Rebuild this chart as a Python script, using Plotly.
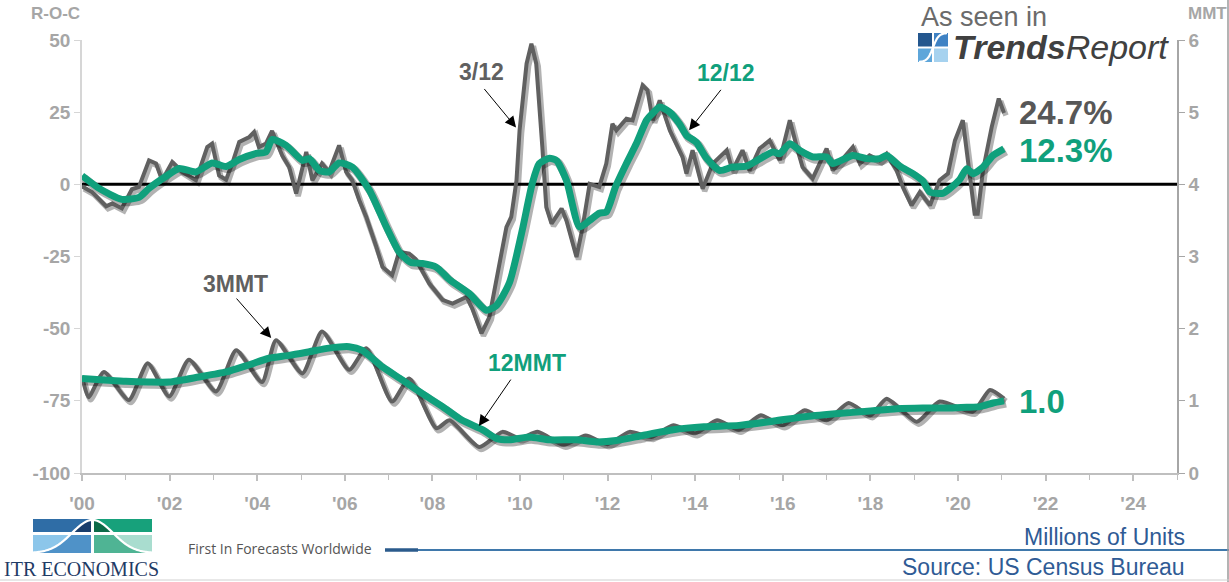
import numpy as np
import plotly.graph_objects as go

# ---------------- data ----------------
# 3/12 rate-of-change (%), left axis
roc_3_12_t = [2000.00, 2000.23, 2000.55, 2000.69, 2000.91, 2001.14, 2001.30, 2001.53, 2001.69, 2001.83,
              2002.06, 2002.29, 2002.60, 2002.86, 2002.97, 2003.13, 2003.29, 2003.43, 2003.59, 2003.82,
              2003.93, 2004.04, 2004.20, 2004.34, 2004.57, 2004.73, 2004.89, 2005.12, 2005.26, 2005.48,
              2005.64, 2005.87, 2006.03, 2006.17, 2006.33, 2006.49, 2006.72, 2006.86, 2007.08, 2007.24,
              2007.47, 2007.62, 2007.93, 2008.23, 2008.46, 2008.78, 2008.91, 2009.12, 2009.30, 2009.46,
              2009.69, 2009.80, 2009.92, 2009.99, 2010.15, 2010.26, 2010.37, 2010.51, 2010.60, 2010.72,
              2010.95, 2011.06, 2011.29, 2011.43, 2011.59, 2011.81, 2011.97, 2012.11, 2012.20, 2012.43,
              2012.57, 2012.80, 2012.91, 2013.03, 2013.19, 2013.42, 2013.57, 2013.71, 2013.80, 2013.94,
              2014.17, 2014.40, 2014.72, 2014.85, 2015.08, 2015.24, 2015.47, 2015.70, 2015.93, 2016.16,
              2016.32, 2016.45, 2016.68, 2017.00, 2017.14, 2017.60, 2017.76, 2017.98, 2018.21, 2018.37,
              2018.60, 2018.74, 2018.94, 2019.13, 2019.36, 2019.58, 2019.77, 2019.93, 2020.11, 2020.22,
              2020.38, 2020.45, 2020.57, 2020.77, 2020.93, 2021.05]
roc_3_12_v = [-0.7, -2.7, -7.6, -6.6, -8.3, -1.7, -0.9, 8.3, 7.2, 1.4,
              7.7, 4.3, 1.4, 12.9, 14.1, 3.1, 1.6, 7.2, 14.7, 16.4,
              18.1, 12.9, 14.1, 18.5, 10.0, 6.0, -3.2, 11.2, 1.4, 7.2,
              4.3, 13.5, 4.3, 1.4, -5.5, -11.3, -21.7, -28.6, -31.5, -23.4,
              -24.0, -26.0, -34.4, -40.0, -41.3, -39.0, -43.0, -51.6, -46.0, -33.0,
              -14.8, -11.3, 1.4, 18.7, 41.8, 48.7, 41.8, 12.9, -7.9, -13.6,
              -8.4, -12.5, -25.2, -14.8, 0.2, -0.9, 7.2, 21.0, 18.7, 22.7,
              22.2, 34.3, 32.6, 22.2, 29.1, 18.7, 14.1, 9.5, 3.7, 11.8,
              -1.5, 7.2, 11.8, 4.8, 11.8, 4.8, 12.4, 15.2, 8.3, 22.2,
              12.9, 6.0, 2.0, 12.4, 4.8, 12.9, 7.2, 10.0, 8.3, 10.6,
              4.8, -0.9, -7.3, -2.7, -7.3, 1.4, 3.7, 15.2, 22.2, 8.3,
              -10.2, -10.2, 4.8, 19.9, 29.7, 24.7]

# 12/12 rate-of-change (%), left axis
roc_12_12_t = [2000.00, 2000.39, 2000.91, 2001.30, 2001.53, 2001.92, 2002.22, 2002.60, 2002.97, 2003.29,
               2003.59, 2003.98, 2004.20, 2004.34, 2004.66, 2005.03, 2005.19, 2005.42, 2005.64, 2005.87,
               2006.17, 2006.56, 2006.95, 2007.24, 2007.50, 2007.77, 2008.09, 2008.39, 2008.84, 2009.23,
               2009.46, 2009.76, 2010.05, 2010.28, 2010.44, 2010.67, 2010.83, 2011.06, 2011.36, 2011.59,
               2011.81, 2011.97, 2012.18, 2012.43, 2012.66, 2012.89, 2013.03, 2013.19, 2013.42, 2013.64,
               2013.80, 2014.03, 2014.26, 2014.56, 2014.85, 2015.17, 2015.47, 2015.77, 2015.93, 2016.16,
               2016.38, 2016.68, 2017.00, 2017.14, 2017.60, 2017.92, 2018.21, 2018.37, 2018.67, 2018.97,
               2019.20, 2019.36, 2019.65, 2019.81, 2020.04, 2020.20, 2020.34, 2020.57, 2020.80, 2021.05]
roc_12_12_v = [3.0, -1.4, -5.2, -4.5, -1.4, 2.8, 5.5, 4.3, 7.4, 6.2,
               8.6, 10.7, 11.2, 15.5, 13.5, 8.3, 8.9, 4.8, 4.3, 7.4,
               6.0, -2.0, -14.8, -23.4, -27.0, -27.4, -28.7, -33.0, -37.8, -43.6,
               -42.0, -34.0, -16.0, 0.3, 7.2, 9.0, 8.3, 1.4, -14.8, -12.5,
               -10.0, -9.6, -0.9, 7.2, 14.2, 22.2, 24.6, 26.8, 25.0, 21.0,
               17.0, 14.5, 9.0, 4.8, 6.0, 6.3, 8.8, 11.2, 10.6, 14.1,
               11.8, 9.5, 9.5, 7.2, 10.0, 8.9, 8.9, 10.0, 6.3, 3.7,
               1.1, -2.7, -3.1, -1.5, 1.7, 5.4, 3.7, 6.0, 10.0, 12.3]

# 3-month moving total (millions of units), right axis
mmt_3_t = [2000.00, 2000.15, 2000.50, 2001.07, 2001.50, 2001.99, 2002.44, 2003.06, 2003.52, 2004.11,
           2004.43, 2005.03, 2005.48, 2006.10, 2006.49, 2007.08, 2007.47, 2008.09, 2008.39, 2009.07,
           2009.60, 2010.00, 2010.40, 2011.00, 2011.50, 2012.00, 2012.50, 2013.00, 2013.50, 2014.00,
           2014.50, 2015.00, 2015.50, 2016.00, 2016.50, 2017.00, 2017.50, 2018.00, 2018.37, 2019.06,
           2019.58, 2020.34, 2020.73, 2021.05]
mmt_3_v = [1.34, 1.05, 1.40, 1.01, 1.52, 1.06, 1.57, 1.13, 1.70, 1.26,
           1.84, 1.38, 1.96, 1.43, 1.73, 0.99, 1.31, 0.62, 0.73, 0.36,
           0.57, 0.48, 0.57, 0.39, 0.52, 0.40, 0.57, 0.50, 0.66, 0.55,
           0.73, 0.60, 0.80, 0.66, 0.87, 0.73, 0.97, 0.80, 1.03, 0.71,
           0.99, 0.85, 1.15, 1.03]

# 12-month moving total (millions of units), right axis
mmt_12_t = [2000.00, 2000.50, 2001.00, 2001.53, 2001.99, 2002.67, 2003.29, 2003.82, 2004.27, 2004.73,
            2005.19, 2005.64, 2006.10, 2006.40, 2006.86, 2007.31, 2007.77, 2008.23, 2008.68, 2009.14,
            2009.46, 2009.76, 2010.21, 2010.67, 2011.29, 2011.75, 2012.20, 2012.80, 2013.50, 2014.20,
            2015.00, 2015.80, 2016.50, 2017.20, 2018.00, 2018.60, 2019.20, 2019.80, 2020.20, 2020.50,
            2020.80, 2021.05]
mmt_12_v = [1.31, 1.29, 1.27, 1.26, 1.26, 1.33, 1.40, 1.50, 1.59, 1.63,
            1.68, 1.73, 1.75, 1.70, 1.47, 1.29, 1.10, 0.92, 0.73, 0.60,
            0.48, 0.46, 0.50, 0.46, 0.46, 0.43, 0.45, 0.52, 0.60, 0.64,
            0.66, 0.72, 0.78, 0.82, 0.86, 0.89, 0.90, 0.90, 0.91, 0.92,
            0.97, 1.00]

year_ticks = list(range(2000, 2025, 2))
year_labels = ["'00", "'02", "'04", "'06", "'08", "'10", "'12", "'14", "'16", "'18", "'20", "'22", "'24"]
roc_ticks = [-100, -75, -50, -25, 0, 25, 50]
roc_labels = ["-100", "-75", "-50", "-25", "0", "25", "50"]
mmt_ticks = [0, 1, 2, 3, 4, 5, 6]

# ---------------- styling ----------------
W_PX, H_PX = 1229, 582
L, R, T, B = 82, 1177, 40, 473          # plot-area edges in pixels
X_RANGE = [2000, 2025]
Y1_RANGE = [-100, 50]
Y2_RANGE = [0, 6]

GRAY = "#606060"
TEAL = "#10a07c"
AXIS_TXT = "#a6a6a6"
BLUE_TXT = "#2f5b95"
FONT = "Liberation Sans"


def P(x, y):
    """pixel position -> paper coordinates"""
    return (x - L) / (R - L), (B - y) / (B - T)


px_per_year = (R - L) / (X_RANGE[1] - X_RANGE[0])
px_per_y1 = (B - T) / (Y1_RANGE[1] - Y1_RANGE[0])
px_per_y2 = (B - T) / (Y2_RANGE[1] - Y2_RANGE[0])

fig = go.Figure()


def add_series(t, v, color, width, axis, shape):
    t = np.asarray(t, float)
    v = np.asarray(v, float)
    dy = 2.5 / (px_per_y1 if axis == "y" else px_per_y2)
    dx = 2.0 / px_per_year
    fig.add_trace(go.Scatter(x=t + dx, y=v - dy, mode="lines", yaxis=axis,
                             line=dict(color="rgba(0,0,0,0.30)", width=width + 1.5, shape=shape, smoothing=0.6),
                             hoverinfo="skip", showlegend=False))
    fig.add_trace(go.Scatter(x=t, y=v, mode="lines", yaxis=axis,
                             line=dict(color=color, width=width, shape=shape, smoothing=0.6),
                             showlegend=False))


add_series(mmt_3_t, mmt_3_v, GRAY, 4, "y2", "spline")
add_series(mmt_12_t, mmt_12_v, TEAL, 7, "y2", "spline")
add_series(roc_3_12_t, roc_3_12_v, GRAY, 4, "y", "linear")
add_series(roc_12_12_t, roc_12_12_v, TEAL, 7, "y", "spline")

shapes = []
# zero line on the rate-of-change axis
shapes.append(dict(type="line", xref="x", yref="y", x0=X_RANGE[0], x1=X_RANGE[1], y0=0, y1=0,
                   line=dict(color="black", width=3), layer="below"))

# footer divider
x0, y0 = P(385, 550)
x1, _ = P(1229, 550)
shapes.append(dict(type="line", xref="paper", yref="paper", x0=x0, x1=x1, y0=y0, y1=y0,
                   line=dict(color="#3f78ab", width=2)))
x2, _ = P(418, 550)
shapes.append(dict(type="line", xref="paper", yref="paper", x0=x0, x1=x2, y0=y0, y1=y0,
                   line=dict(color="#2b5b8c", width=3.5)))
# slide edge
ex, ey0 = P(1228, 0)
_, ey1 = P(1228, 582)
shapes.append(dict(type="line", xref="paper", yref="paper", x0=ex, x1=ex, y0=ey0, y1=ey1,
                   line=dict(color="#9a9a9a", width=1.5)))
bx0, by = P(0, 580)
bx1, _ = P(1229, 580)
shapes.append(dict(type="line", xref="paper", yref="paper", x0=bx0, x1=bx1, y0=by, y1=by,
                   line=dict(color="#d0d0d0", width=1)))


def rect_px(xa, ya, xb, yb, color):
    a, b = P(xa, ya)
    c, d = P(xb, yb)
    shapes.append(dict(type="rect", xref="paper", yref="paper", x0=a, x1=c, y0=d, y1=b,
                       line=dict(width=0), fillcolor=color))


def poly_px(points, color, line_color=None, lw=0, closed=True):
    parts = []
    for i, (x, y) in enumerate(points):
        a, b = P(x, y)
        parts.append(("M" if i == 0 else "L") + f"{a:.5f},{b:.5f}")
    path = " ".join(parts) + (" Z" if closed else "")
    shapes.append(dict(type="path", xref="paper", yref="paper", path=path,
                       fillcolor=color if closed else None,
                       line=dict(color=line_color or "rgba(0,0,0,0)", width=lw)))


# ---- ITR Economics logo mark ----
LX0, LX1, LXM = 33, 152, 92.5
LY0, LYM, LY1 = 519, 533.5, 553


def bell(x):
    return LY1 - 33.0 * np.exp(-((x - LXM) / 29.0) ** 2)


quads = [  # x0, x1, y0, y1, outside colour, inside colour
    (LX0, LXM - 1.5, LY0, LYM - 1.5, "#2f6da6", "#193d6c"),
    (LXM + 1.5, LX1, LY0, LYM - 1.5, "#17a17b", "#0c6a48"),
    (LX0, LXM - 1.5, LYM + 1.5, LY1, "#8cc6ea", "#4f92c8"),
    (LXM + 1.5, LX1, LYM + 1.5, LY1, "#a9ddcf", "#4fb494"),
]
for qx0, qx1, qy0, qy1, c_out, c_in in quads:
    rect_px(qx0, qy0, qx1, qy1, c_out)
    xs = np.linspace(qx0, qx1, 40)
    tops = np.clip(bell(xs), qy0, qy1)
    pts = list(zip(xs, tops)) + [(qx1, qy1), (qx0, qy1)]
    poly_px(pts, c_in)
xs = np.linspace(LX0, LX1, 80)
poly_px(list(zip(xs, bell(xs))), None, line_color="white", lw=2.2, closed=False)

# ---- TrendsReport mark ----
IX0, IX1, IY0, IY1 = 918, 948, 33, 62
IXM, IYM = 933, 47.5
rect_px(IX0, IY0, IXM - 1, IYM - 1, "#24578e")
rect_px(IXM + 1, IY0, IX1, IYM - 1, "#3f82c4")
rect_px(IX0, IYM + 1, IXM - 1, IY1, "#5ea6da")
rect_px(IXM + 1, IYM + 1, IX1, IY1, "#a6d2ef")
ss = np.linspace(0, 1, 40)
sx = IX0 + 1 + ss * (IX1 - IX0 - 2)
sy = IY1 - (IY1 - IY0) / (1 + np.exp(-(ss - 0.5) * 10))
poly_px(list(zip(sx, sy)), None, line_color="white", lw=2.2, closed=False)

# ---------------- annotations ----------------
ann = []


def text_px(x, y, text, size, color, xanchor="center", bold=True, family=FONT, italic=False):
    a, b = P(x, y)
    ann.append(dict(x=a, y=b, xref="paper", yref="paper", text=text, showarrow=False,
                    xanchor=xanchor, yanchor="middle",
                    font=dict(family=family, size=size, color=color,
                              weight="bold" if bold else "normal",
                              style="italic" if italic else "normal")))


def arrow(x, y, yref, ax, ay):
    ann.append(dict(x=x, y=y, xref="x", yref=yref, ax=ax, ay=ay, text="", showarrow=True,
                    arrowhead=2, arrowsize=2.2, arrowwidth=1, arrowcolor="black"))


text_px(55, 13, "R-O-C", 17, AXIS_TXT)
text_px(1207, 13, "MMT", 17, AXIS_TXT)

text_px(481, 72, "3/12", 23, GRAY)
text_px(726, 73, "12/12", 23, TEAL)
text_px(235, 284, "3MMT", 23, GRAY)
text_px(527, 363, "12MMT", 23, TEAL)
arrow(2009.91, 19.7, "y", -33, -40)
arrow(2013.86, 18.7, "y", 33, -42)
arrow(2004.32, 1.87, "y2", -36, -41)
arrow(2009.06, 0.65, "y2", 33, -48)

text_px(1017, 112, f"{roc_3_12_v[-1]:.1f}%", 33, "#575757", xanchor="left")
text_px(1017, 150, f"{roc_12_12_v[-1]:.1f}%", 33, TEAL, xanchor="left")
text_px(1017, 401, f"{mmt_12_v[-1]:.1f}", 33, TEAL, xanchor="left")

text_px(919, 17, "As seen in", 27, "#6b6b6b", xanchor="left", bold=False)
text_px(951, 47, "<b>Trends</b>Report", 34, "#404040", xanchor="left", bold=False, italic=True)

text_px(1187, 537, "Millions of Units", 23, BLUE_TXT, xanchor="right", bold=False)
text_px(1187, 567, "Source: US Census Bureau", 23, BLUE_TXT, xanchor="right", bold=False)
text_px(186, 548, "First In Forecasts Worldwide", 14, "#555555", xanchor="left", bold=False,
        family="Open Sans")
text_px(2, 569, "ITR ECONOMICS", 20, "#1f3b66", xanchor="left", bold=False, family="Liberation Serif")

tick_font = dict(family=FONT, size=19, color=AXIS_TXT, weight="bold")

fig.update_layout(
    width=W_PX, height=H_PX,
    margin=dict(l=L, r=W_PX - R, t=T, b=H_PX - B, pad=0),
    paper_bgcolor="white", plot_bgcolor="white",
    showlegend=False,
    xaxis=dict(range=X_RANGE, tickvals=year_ticks, ticktext=year_labels,
               showgrid=False, zeroline=False, showline=True, linecolor="#bfbfbf", linewidth=1.5,
               ticks="outside", ticklen=6, tickcolor="#bfbfbf", tickwidth=1.5,
               minor=dict(ticks="outside", ticklen=5, tickcolor="#bfbfbf", tickwidth=1, dtick=1, tick0=2000),
               tickfont=tick_font, ticklabelstandoff=6),
    yaxis=dict(range=Y1_RANGE, tickvals=roc_ticks, ticktext=roc_labels, showgrid=False, zeroline=False,
               showline=True, linecolor="#d6d6d6", linewidth=1.5,
               ticks="outside", ticklen=6, tickcolor="#d6d6d6", tickfont=tick_font),
    yaxis2=dict(range=Y2_RANGE, tickvals=mmt_ticks, overlaying="y", side="right",
                showgrid=False, zeroline=False, showline=True, linecolor="#a6a6a6", linewidth=1.5,
                ticks="outside", ticklen=6, tickcolor="#a6a6a6", tickfont=tick_font),
    shapes=shapes,
    annotations=ann,
)

fig.write_html("out.html")
